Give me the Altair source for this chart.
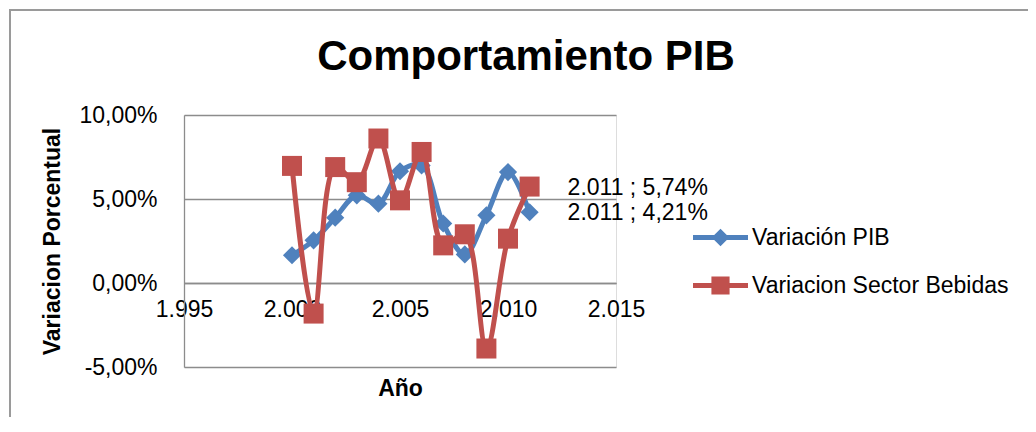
import altair as alt
import pandas as pd

# ---- data ----
anios = [2000, 2001, 2002, 2003, 2004, 2005, 2006, 2007, 2008, 2009, 2010, 2011]
pib = [1.65, 2.54, 3.89, 5.22, 4.72, 6.65, 7.0, 3.54, 1.70, 4.03, 6.60, 4.21]
bebidas = [6.97, -1.82, 6.90, 6.00, 8.60, 4.92, 7.80, 2.24, 2.90, -3.90, 2.64, 5.74]
series = ["Variación PIB", "Variacion Sector Bebidas"]
colores = ["#4F81BD", "#C0504D"]
x_ticks = [1995, 2000, 2005, 2010, 2015]
y_ticks = [-5, 0, 5, 10]
titulo = "Comportamiento PIB"
x_titulo = "Año"
y_titulo = "Variacion Porcentual"

FONT = "Liberation Sans"
GRID = "#8c8c8c"

df = pd.DataFrame({
    "anio": anios * 2,
    "valor": pib + bebidas,
    "serie": [series[0]] * len(anios) + [series[1]] * len(anios),
})
dummy = pd.DataFrame({"a": [0]})

x_enc = alt.X(
    "anio:Q",
    scale=alt.Scale(domain=[x_ticks[0], x_ticks[-1]], nice=False, zero=False),
    axis=alt.Axis(
        values=x_ticks,
        labelExpr="replace(format(datum.value, ','), ',', '.')",
        grid=False, ticks=False, domain=True, domainColor=GRID, domainWidth=1.3,
        offset=-84, labelPadding=15, labelFontSize=23, labelFont=FONT,
        labelColor="black", labelFlush=False, labelOverlap=False,
        title=x_titulo, titleFont=FONT, titleFontSize=23, titleFontWeight="bold",
        titleColor="black", titlePadding=56,
    ),
)
y_enc = alt.Y(
    "valor:Q",
    scale=alt.Scale(domain=[y_ticks[0], y_ticks[-1]], nice=False, zero=False),
    axis=alt.Axis(
        values=y_ticks,
        labelExpr="(datum.value < 0 ? '-' : '') + replace(format(abs(datum.value), '.2f'), '.', ',') + '%'",
        grid=True, gridColor=GRID, gridWidth=1.3, ticks=False,
        domain=True, domainColor=GRID, domainWidth=1.3,
        labelPadding=27, labelFontSize=23, labelFont=FONT, labelColor="black",
        title=y_titulo, titleFont=FONT, titleFontSize=23, titleFontWeight="bold",
        titleColor="black", titlePadding=14,
    ),
)

base = alt.Chart(df)

FRAME = "#9a9a9a"
frame_v = alt.Chart(dummy).mark_rule(stroke=FRAME, strokeWidth=2).encode(
    x=alt.value(-174), y=alt.value(-105), y2=alt.value(310)
)
frame_h = alt.Chart(dummy).mark_rule(stroke=FRAME, strokeWidth=2).encode(
    x=alt.value(-175), x2=alt.value(844), y=alt.value(-105)
)

title_mark = alt.Chart(dummy).mark_text(
    font=FONT, fontSize=42, fontWeight="bold", color="black",
    align="center", baseline="alphabetic",
).encode(x=alt.value(342), y=alt.value(-45), text=alt.value(titulo))

def serie_layers(name, color, shape, size):
    d = base.transform_filter(alt.datum.serie == name)
    line = d.mark_line(interpolate="catmull-rom", strokeWidth=5, color=color).encode(x=x_enc, y=y_enc)
    pts = d.mark_point(filled=True, shape=shape, size=size, color=color, opacity=1).encode(x=x_enc, y=y_enc)
    return line, pts

l1, p1 = serie_layers(series[0], colores[0], "diamond", 330)
l2, p2 = serie_layers(series[1], colores[1], "square", 400)

labels = base.transform_filter(alt.datum.anio == anios[-1]).transform_calculate(
    etiqueta="replace(format(datum.anio, ','), ',', '.') + ' ; ' + replace(format(datum.valor, '.2f'), '.', ',') + '%'"
).mark_text(align="left", baseline="middle", dx=38, dy=1, font=FONT, fontSize=23, color="black").encode(
    x=x_enc, y=y_enc, text="etiqueta:N"
)

path_diamond = "M-1,-0.09L1,-0.09L1,0.09L-1,0.09Z M0,-0.32L0.32,0L0,0.32L-0.32,0Z"
path_square = "M-1,-0.09L1,-0.09L1,0.09L-1,0.09Z M-0.33,-0.33L0.33,-0.33L0.33,0.33L-0.33,0.33Z"

leg = dict(orient="none", legendX=509, legendY=95, title=None,
           symbolSize=3025, symbolStrokeWidth=0, symbolOpacity=1,
           labelFontSize=23, labelFont=FONT, labelColor="black", labelLimit=0,
           rowPadding=8, labelOffset=4, padding=0)

legend_layer = base.transform_filter("datum.anio < 0").mark_point(filled=True).encode(
    x=x_enc, y=y_enc,
    color=alt.Color("serie:N", scale=alt.Scale(domain=series, range=colores), legend=alt.Legend(**leg)),
    shape=alt.Shape("serie:N", scale=alt.Scale(domain=series, range=[path_diamond, path_square]),
                    legend=alt.Legend(**leg)),
)

chart = alt.layer(frame_v, frame_h, title_mark, l1, p1, l2, p2, labels, legend_layer).properties(
    width=432, height=252,
    autosize=alt.AutoSizeParams(type="none"),
    padding={"left": 176, "top": 107, "right": 412, "bottom": 50},
).configure_view(stroke=None).configure(background="white")

chart.save("out.html", embed_options={"renderer": "svg", "actions": False})
